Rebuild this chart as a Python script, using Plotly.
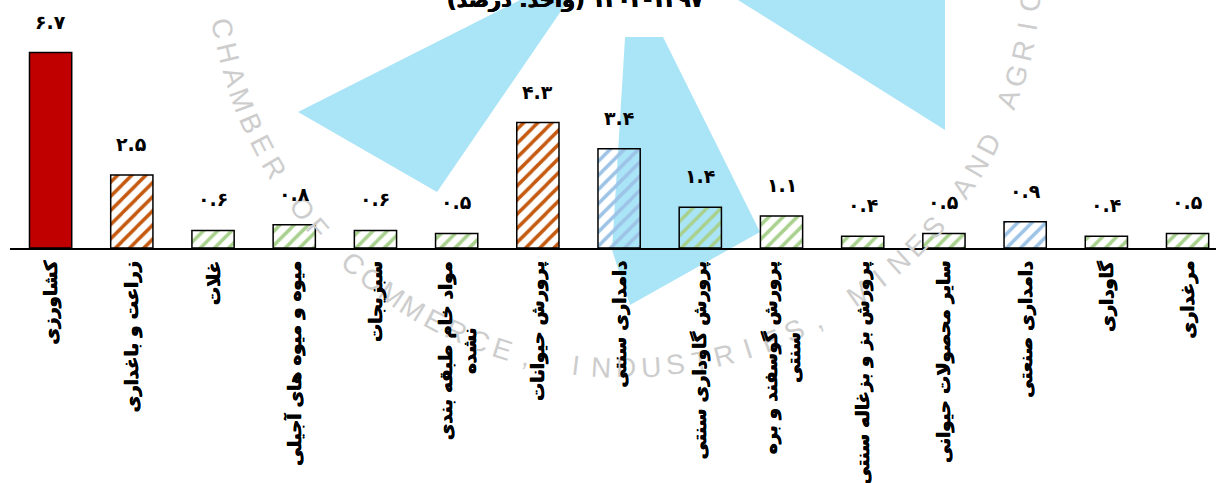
import math
import plotly.graph_objects as go

# ---- data ----
categories = [
    "کشاورزی",
    "زراعت و باغداری",
    "غلات",
    "میوه و میوه های آجیلی",
    "سبزیجات",
    "مواد خام طبقه بندی<br>نشده",
    "پرورش حیوانات",
    "دامداری سنتی",
    "پرورش گاوداری سنتی",
    "پرورش گوسفند و بره<br>سنتی",
    "پرورش بز و بزغاله سنتی",
    "سایر محصولات حیوانی",
    "دامداری صنعتی",
    "گاوداری",
    "مرغداری",
]
values = [6.7, 2.5, 0.6, 0.8, 0.6, 0.5, 4.3, 3.4, 1.4, 1.1, 0.4, 0.5, 0.9, 0.4, 0.5]
levels = ["total", "sub", "item", "item", "item", "item", "sub", "sub2",
          "item", "item", "item", "item", "sub2", "item", "item"]
title_text = "۱۴۰۲-۱۳۹۷ (واحد: درصد)"
watermark_text = "CHAMBER OF COMMERCE, INDUSTRIES, MINES AND AGRICULTURE"

# ---- styles ----
RED = "#C00000"
level_color = {"total": RED, "sub": "#C55A11", "sub2": "#9DC3E6", "item": "#A9D18E"}
colors = [level_color[l] for l in levels]
shapes_pat = ["" if l == "total" else "/" for l in levels]

FONT = "DejaVu Sans"
BOLDER = "0.5px 0 0 #000, -0.4px 0 0 #000"
fa = str.maketrans("0123456789", "۰۱۲۳۴۵۶۷۸۹")

W, H = 1216, 483
ML, MR, MT, MB = 10, 0, 0, 235
PW, PH = W - ML - MR, H - MT - MB


def fa_num(v):
    return f"{v:.1f}".translate(fa)


def px2paper(px, py):
    return (px - ML) / PW, (MT + PH - py) / PH


fig = go.Figure()
fig.add_trace(go.Bar(
    x=categories,
    y=values,
    width=0.52,
    marker=dict(
        color=colors,
        line=dict(color="black", width=1.5),
        pattern=dict(shape=shapes_pat, fgcolor=colors, bgcolor="white",
                     size=10, solidity=0.35, fillmode="replace"),
    ),
    hoverinfo="skip",
))

annotations = []

# decorative watermark: circular seal text (light grey)
cx, cy, r = 625, -40, 408
start, step = 170.4, 3.5
for i, ch in enumerate(watermark_text):
    if ch == " ":
        continue
    th = start - i * step
    px = cx + r * math.cos(math.radians(th))
    py = cy + r * math.sin(math.radians(th))
    if py < -20:
        continue
    xp, yp = px2paper(px, py)
    annotations.append(dict(
        x=xp, y=yp, xref="paper", yref="paper", text=ch, showarrow=False,
        xanchor="center", yanchor="middle", textangle=th - 90,
        font=dict(family="Liberation Sans", size=28, color="#CDCDCD"),
    ))

# value labels
for c, v in zip(categories, values):
    annotations.append(dict(
        x=c, y=v, xref="x", yref="y", text=fa_num(v), showarrow=False,
        yanchor="bottom", yshift=18,
        font=dict(family=FONT, size=19, color="black", weight="bold"),
    ))
# category labels (rotated)
for c in categories:
    annotations.append(dict(
        x=c, y=0, xref="x", yref="paper", text=c, showarrow=False,
        yanchor="top", xanchor="center", yshift=-11, textangle=-90, align="center",
        font=dict(family=FONT, size=18, color="black", weight="bold", shadow=BOLDER),
    ))
# clipped title
tx, ty = px2paper(575, 0)
annotations.append(dict(
    x=tx, y=ty, xref="paper", yref="paper",
    text="\u202B" + title_text + "\u202C", showarrow=False,
    yanchor="middle", yshift=0,
    font=dict(family=FONT, size=21, color="black", weight="bold", shadow=BOLDER),
))

# decorative watermark (background logo shapes) in pixel coords -> paper
WM = "#AAE4F7"
wm_polys = [
    [(298, 112), (530, -5), (572, -5), (437, 192)],
    [(625, 37), (663, 37), (760, 232), (630, 305), (612, 250)],
    [(730, -5), (945, 130), (945, -5)],
]
shapes = []
for poly in wm_polys:
    pts = [px2paper(x, y) for x, y in poly]
    path = "M " + " L ".join(f"{a:.4f} {b:.4f}" for a, b in pts) + " Z"
    shapes.append(dict(type="path", path=path, xref="paper", yref="paper",
                       fillcolor=WM, line=dict(width=0), layer="below"))

fig.update_layout(
    width=W, height=H,
    margin=dict(l=ML, r=MR, t=MT, b=MB),
    paper_bgcolor="white", plot_bgcolor="rgba(0,0,0,0)",
    showlegend=False,
    annotations=annotations,
    shapes=shapes,
    xaxis=dict(type="category", range=[-0.5, 14.35], showticklabels=False,
               showline=True, linecolor="black", linewidth=1.5,
               showgrid=False, zeroline=False, ticks=""),
    yaxis=dict(range=[0, 8.5], visible=False, showgrid=False, zeroline=False),
)

fig.write_html("out.html", config={"displayModeBar": False},
               post_script="document.body.style.margin='0px';")
